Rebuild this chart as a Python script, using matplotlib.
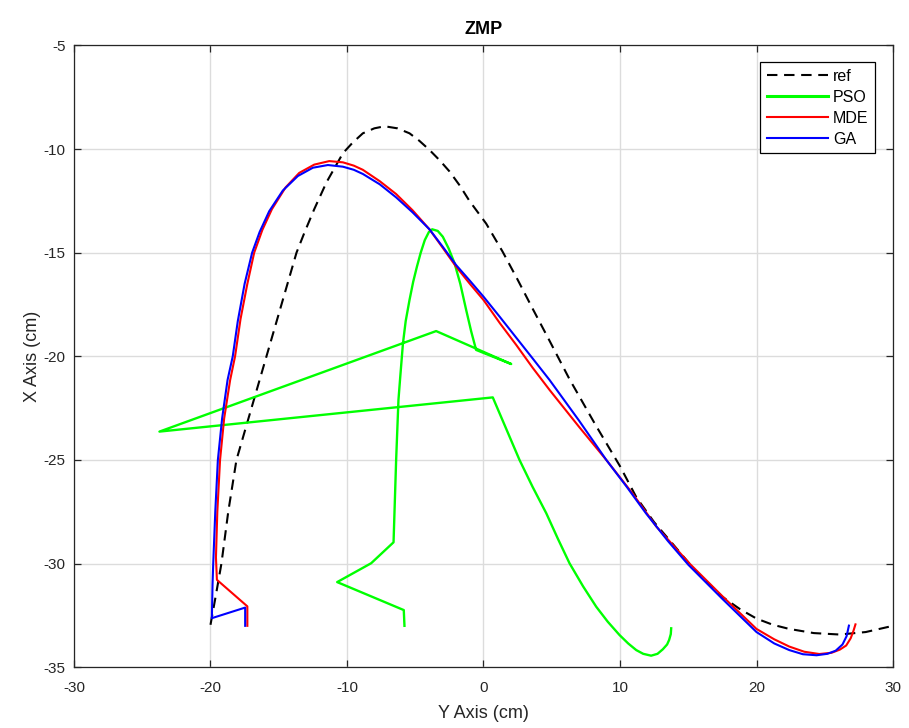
import matplotlib
matplotlib.use("Agg")
import matplotlib.pyplot as plt

plt.rcParams['font.family'] = ['Liberation Sans', 'DejaVu Sans']
plt.rcParams['axes.unicode_minus'] = False

# Reference ZMP trajectory (Y, X) in cm
ref_y = [-20.0, -19.6, -19.2, -18.7, -18.1, -17.0, -15.9, -14.8, -13.7, -13.1,
         -12.4, -11.5, -10.9, -10.3, -9.6, -8.84, -8.0, -7.25, -6.3, -5.42,
         -4.7, -3.96, -3.2, -2.49, -1.75, -1.03, 0.2, 1.4, 2.5, 3.6,
         4.8, 6.3, 8.2, 10.0, 11.2, 12.5, 13.8, 15.6, 17.5, 18.8,
         20.0, 21.2, 22.4, 24.2, 26.1, 28.0, 30.0]
ref_x = [-32.95, -31.5, -30.0, -27.5, -25.0, -22.5, -20.0, -17.5, -15.0, -14.0,
         -12.9, -11.6, -10.9, -10.2, -9.7, -9.24, -9.0, -8.9, -9.0, -9.24,
         -9.6, -10.04, -10.55, -11.08, -11.75, -12.5, -13.6, -14.95, -16.3, -17.7,
         -19.2, -21.1, -23.3, -25.3, -26.8, -28.0, -29.0, -30.4, -31.6, -32.2,
         -32.65, -32.95, -33.15, -33.35, -33.42, -33.3, -33.0]

# PSO result
pso_y = [-5.79, -5.84, -10.72, -8.23, -6.59, -6.4, -6.23, -6.1, -5.9, -5.7,
         -5.42, -5.15, -4.88, -4.6, -4.3, -4.0, -3.76, -3.35, -2.98, -2.55,
         -2.12, -1.7, -1.27, -0.9, -0.54, 2.03, -3.47, -23.74, 0.68,
         2.64, 3.6, 4.6, 5.45, 6.3, 7.3, 8.26, 9.1, 9.96, 10.6,
         11.19, 11.7, 12.28, 12.75, 13.14, 13.45, 13.6, 13.72, 13.75]
pso_x = [-33.0, -32.24, -30.89, -29.98, -28.97, -25.0, -22.1, -21.0, -19.37, -18.3,
         -17.28, -16.4, -15.68, -15.0, -14.39, -14.0, -13.87, -13.95, -14.23, -14.8,
         -15.51, -16.5, -17.76, -18.8, -19.69, -20.37, -18.78, -23.63, -21.98,
         -25.0, -26.3, -27.57, -28.8, -29.98, -31.1, -32.08, -32.8, -33.44, -33.85,
         -34.17, -34.35, -34.44, -34.35, -34.13, -33.9, -33.68, -33.4, -33.12]

# MDE result
mde_y = [-17.3, -17.3, -19.53, -19.6, -19.5, -19.3, -19.0, -18.56, -18.2, -17.8,
         -17.3, -16.8, -16.2, -15.5, -14.5, -13.5, -12.4, -11.3, -10.3, -9.5,
         -8.84, -7.6, -6.4, -5.2, -3.96, -3.0, -2.0, -1.0, 0.0, 1.2,
         2.4, 3.6, 4.84, 7.0, 9.0, 10.9, 12.65, 15.1, 17.53, 20.0,
         21.3, 22.4, 23.5, 24.6, 25.5, 26.1, 26.57, 26.9, 27.1, 27.25]
mde_x = [-33.0, -32.06, -30.78, -29.7, -27.5, -25.0, -23.0, -21.14, -20.0, -18.2,
         -16.5, -15.0, -13.9, -12.9, -11.85, -11.15, -10.75, -10.58, -10.64, -10.8,
         -11.0, -11.55, -12.17, -12.95, -13.87, -14.75, -15.68, -16.5, -17.28, -18.4,
         -19.45, -20.55, -21.62, -23.4, -25.0, -26.6, -28.2, -30.0, -31.59, -33.15,
         -33.65, -34.0, -34.25, -34.36, -34.3, -34.15, -33.95, -33.6, -33.25, -32.93]

# GA result
ga_y = [-17.46, -17.46, -19.9, -19.85, -19.8, -19.65, -19.46, -19.15, -18.75, -18.37,
        -18.0, -17.5, -16.95, -16.4, -15.7, -14.7, -13.6, -12.5, -11.4, -10.3,
        -9.5, -8.84, -7.6, -6.4, -5.2, -3.96, -3.0, -2.0, -1.0, 0.0,
        1.2, 2.4, 3.6, 4.84, 7.0, 9.0, 10.5, 11.9, 13.5, 15.0,
        17.5, 20.0, 21.3, 22.4, 23.4, 24.4, 25.2, 25.8, 26.3, 26.6, 26.77]
ga_x = [-33.0, -32.12, -32.63, -31.0, -30.0, -27.5, -25.0, -23.0, -21.14, -20.0,
        -18.3, -16.5, -15.0, -14.0, -13.0, -12.0, -11.3, -10.9, -10.77, -10.85,
        -11.0, -11.2, -11.7, -12.33, -13.05, -13.87, -14.7, -15.6, -16.35, -17.12,
        -18.1, -19.1, -20.1, -21.14, -23.1, -25.0, -26.3, -27.57, -28.9, -30.05,
        -31.7, -33.3, -33.85, -34.17, -34.37, -34.42, -34.35, -34.2, -33.9, -33.5, -32.99]

x_ticks = [-30, -20, -10, 0, 10, 20, 30]
y_ticks = [-35, -30, -25, -20, -15, -10, -5]

fig = plt.figure(figsize=(9.09, 7.28), dpi=100)
ax = fig.add_axes([0.0814, 0.0834, 0.9010, 0.8542])

ax.plot(ref_y, ref_x, color='black', lw=1.5, ls=(0, (5.0, 3.2)), label='ref')
ax.plot(pso_y, pso_x, color='#00ff00', lw=1.7, label='PSO')
ax.plot(mde_y, mde_x, color='red', lw=1.5, label='MDE')
ax.plot(ga_y, ga_x, color='blue', lw=1.5, label='GA')

ax.set_xlim(-30, 30)
ax.set_ylim(-35, -5)
ax.set_xticks(x_ticks)
ax.set_yticks(y_ticks)
ax.grid(True, color='#dcdcdc', lw=1.0)
ax.set_axisbelow(True)

axis_gray = '#262626'
for s in ax.spines.values():
    s.set_color(axis_gray)
    s.set_linewidth(0.9)
ax.tick_params(direction='in', length=5, width=0.9, colors=axis_gray,
               labelsize=11, top=True, right=True)
ax.tick_params(axis='x', pad=10)
ax.tick_params(axis='y', pad=6)

ax.set_xlabel('Y Axis (cm)', fontsize=13, color=axis_gray, labelpad=7)
ax.set_ylabel('X Axis (cm)', fontsize=13, color=axis_gray, labelpad=2)
ax.set_title('ZMP', fontsize=13, fontweight='bold', pad=8)

leg = ax.legend(loc='upper right', bbox_to_anchor=(0.978, 0.973), fontsize=11.5,
                fancybox=False, edgecolor='black', framealpha=1,
                handlelength=3.8, handletextpad=0.35, labelspacing=0.38,
                borderpad=0.4, borderaxespad=0)
leg.get_frame().set_linewidth(0.9)
leg.get_lines()[1].set_linewidth(2.2)

fig.savefig('out.png', dpi=100)
